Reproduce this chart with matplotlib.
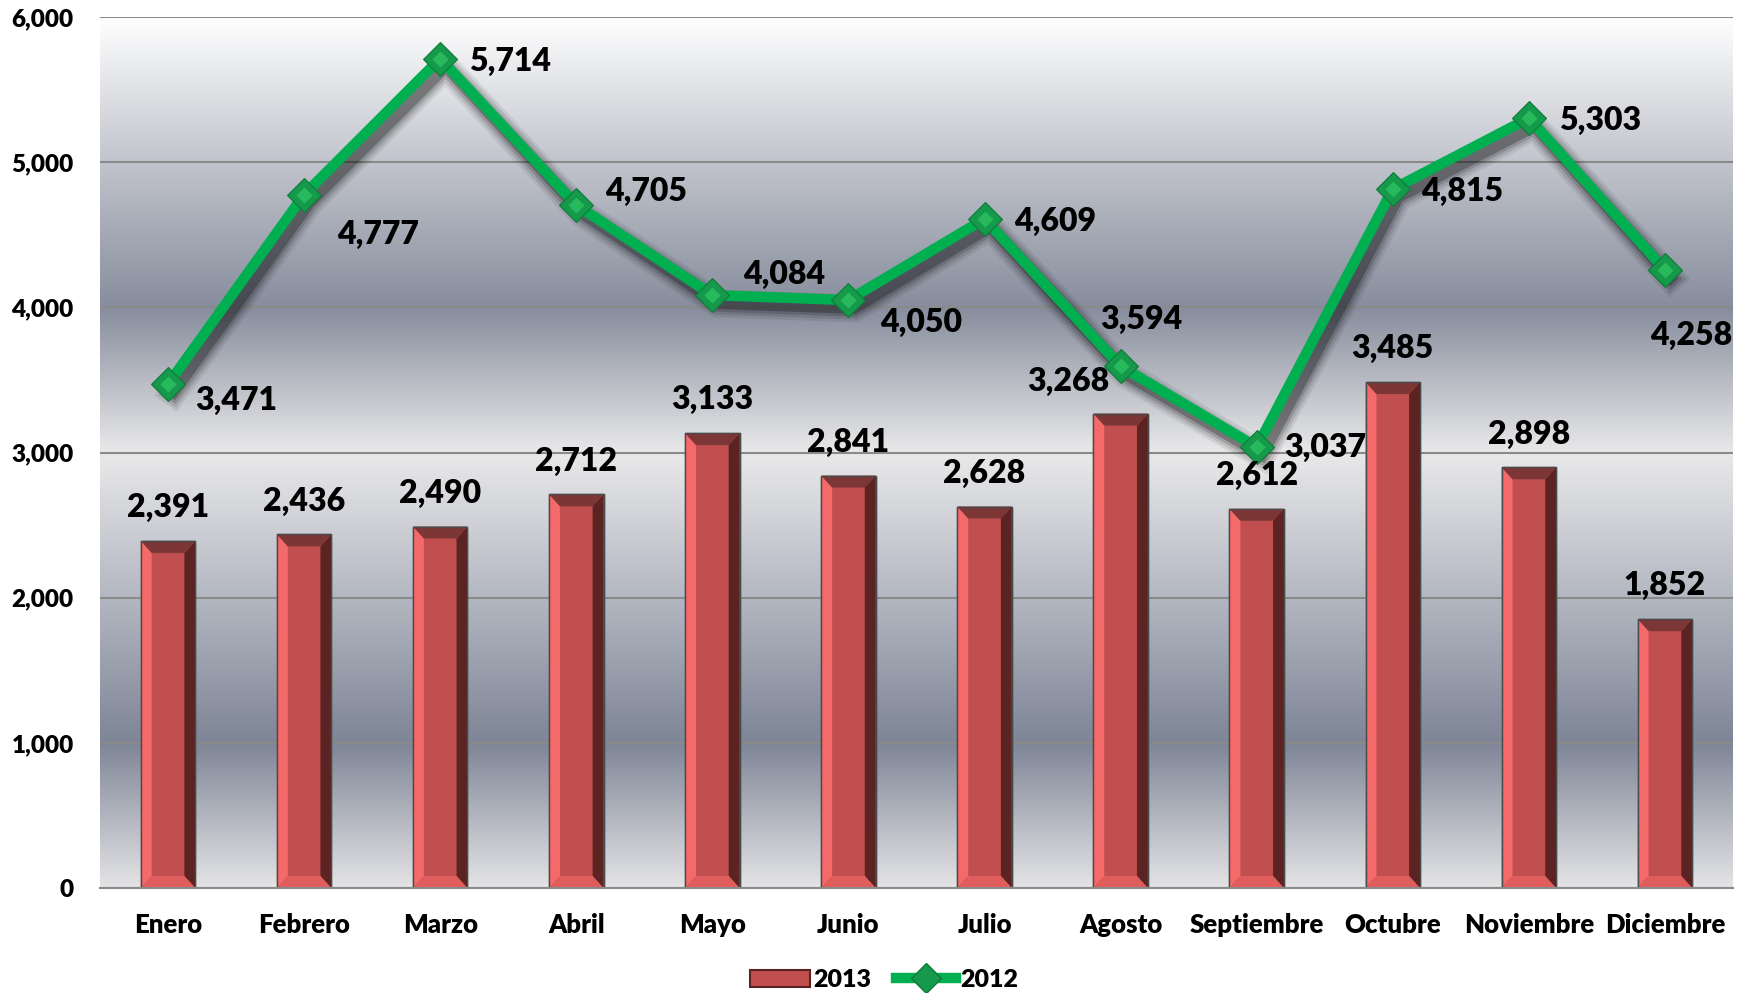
import numpy as np
import matplotlib
matplotlib.use("Agg")
import matplotlib.pyplot as plt
from matplotlib.patches import Polygon, Rectangle
from matplotlib.lines import Line2D
from matplotlib.colors import to_rgb
import matplotlib.patheffects as pe

# ---------------- data ----------------
months = ["Enero", "Febrero", "Marzo", "Abril", "Mayo", "Junio", "Julio",
          "Agosto", "Septiembre", "Octubre", "Noviembre", "Diciembre"]
values_2013 = [2391, 2436, 2490, 2712, 3133, 2841, 2628, 3268, 2612, 3485, 2898, 1852]
values_2012 = [3471, 4777, 5714, 4705, 4084, 4050, 4609, 3594, 3037, 4815, 5303, 4258]
yticks = [0, 1000, 2000, 3000, 4000, 5000, 6000]

# label offsets (points) - positions only
line_label_offsets = [(49, -12), (53, -29), (50, -2), (50, 10), (52, 15), (52, -16),
                      (51, -2), (15, 34), (49, 0), (50, -2), (51, -2), (19, -47)]
bar_label_offsets = [(0, 24)] * 7 + [(-38, 23)] + [(0, 24)] * 4

# ---------------- style ----------------
FONT = "Lato"
WEIGHT = "heavy"
W, H, DPI = 17.55, 9.93, 100
fig = plt.figure(figsize=(W, H), dpi=DPI)
L, R, B, T = 100 / 1755, 1733 / 1755, 1 - 888 / 993, 1 - 17 / 993
ax = fig.add_axes([L, B, R - L, T - B])
ymax = 6000
ax.set_xlim(-0.5, len(months) - 0.5)
ax.set_ylim(0, ymax)

# background gradient (metallic bands)
stops_v = [0, 1000, 2000, 3000, 4000, 5000, 6000]
stops_c = ["#e4e4e6", "#7e8596", "#b3b7c1", "#e9e9ea", "#878d9d", "#c1c4cc", "#ffffff"]
yy = np.linspace(0, ymax, 600)
cols = np.array([to_rgb(c) for c in stops_c])
grad = np.stack([np.interp(yy, stops_v, cols[:, k]) for k in range(3)], axis=-1)
ax.imshow(grad[:, None, :], extent=[0, 1, 0, 1], transform=ax.transAxes,
          origin="lower", aspect="auto", zorder=0, interpolation="bilinear")

# gridlines
for s in ["left", "right", "top"]:
    ax.spines[s].set_visible(False)
ax.spines["bottom"].set_color("#8a8a8a")
ax.spines["bottom"].set_linewidth(1.5)
ax.spines["bottom"].set_zorder(3)
ax.set_yticks(yticks)
ax.yaxis.grid(True, color="#8a8a8a", linewidth=1.5, zorder=1)
ax.set_axisbelow(True)
ax.tick_params(axis="both", length=0)
ax.set_yticklabels([f"{v:,}" for v in yticks], fontsize=17.5, fontweight=WEIGHT,
                   fontfamily=FONT)
ax.tick_params(axis="y", pad=19)
ax.set_xticks(range(len(months)))
ax.set_xticklabels(months, fontsize=18.5, fontweight=WEIGHT, fontfamily=FONT)
ax.tick_params(axis="x", pad=18)

# ---------------- bars with bevel ----------------
x = np.arange(len(months))
bw = 0.40
ax.bar(x, values_2013, width=bw, color="#c24f4f", edgecolor="#5a5a5a",
       linewidth=1.0, zorder=2)
ax_h_px = (T - B) * H * DPI
bev_x = bw * 0.20
bev_y = 12 * ymax / ax_h_px
for xi, v in zip(x, values_2013):
    x0, x1 = xi - bw / 2, xi + bw / 2
    polys = [
        ([(x0, 0), (x0, v), (x0 + bev_x, v - bev_y), (x0 + bev_x, bev_y)], "#f46969"),
        ([(x1, 0), (x1, v), (x1 - bev_x, v - bev_y), (x1 - bev_x, bev_y)], "#5c2323"),
        ([(x0, v), (x1, v), (x1 - bev_x, v - bev_y), (x0 + bev_x, v - bev_y)], "#7d3636"),
        ([(x0, 0), (x1, 0), (x1 - bev_x, bev_y), (x0 + bev_x, bev_y)], "#e05d5d"),
    ]
    for pts, c in polys:
        ax.add_patch(Polygon(pts, closed=True, facecolor=c, edgecolor="none", zorder=2.1))
    ax.add_patch(Rectangle((x0, 0), bw, v, facecolor="none", edgecolor="#4a4a4a",
                           linewidth=1.0, zorder=2.2))

# ---------------- line with blurred shadow ----------------
shadow = [pe.SimpleLineShadow(offset=(4, -6), shadow_color="k", alpha=0.07, linewidth=20),
          pe.SimpleLineShadow(offset=(4, -6), shadow_color="k", alpha=0.10, linewidth=16),
          pe.SimpleLineShadow(offset=(4, -6), shadow_color="k", alpha=0.15, linewidth=12),
          pe.SimpleLineShadow(offset=(4, -6), shadow_color="k", alpha=0.25, linewidth=8),
          pe.Normal()]
ax.plot(x, values_2012, color="#00b050", linewidth=7.5, solid_joinstyle="miter",
        zorder=4, path_effects=shadow)
ax.plot(x, values_2012, linestyle="none", marker="D", markersize=17,
        markerfacecolor="#15994a", markeredgecolor="#0f7a38", markeredgewidth=0.8, zorder=5)
ax.plot(x, values_2012, linestyle="none", marker="D", markersize=8,
        markerfacecolor="#28b95c", markeredgecolor="none", zorder=5.1)

# ---------------- labels ----------------
lab_kw = dict(fontsize=23, fontweight=WEIGHT, fontfamily=FONT, ha="center",
              va="center", textcoords="offset points", zorder=6, color="black")
for xi, v, off in zip(x, values_2012, line_label_offsets):
    ax.annotate(f"{v:,}", (xi, v), xytext=off, **lab_kw)
for xi, v, off in zip(x, values_2013, bar_label_offsets):
    ax.annotate(f"{v:,}", (xi, v), xytext=off, **lab_kw)

# ---------------- legend ----------------
h_bar = Rectangle((0, 0), 1, 1, facecolor="#c24f4f", edgecolor="#5c2323", linewidth=1.5)
h_line = Line2D([], [], color="#00b050", linewidth=7.5, marker="D", markersize=15,
                markerfacecolor="#15994a", markeredgecolor="#0f7a38")
fig.legend([h_bar, h_line], ["2013", "2012"], loc="center",
           bbox_to_anchor=(884 / 1755, 1 - 980 / 993), ncol=2, frameon=False,
           prop=dict(family=FONT, weight=WEIGHT, size=18), handlelength=2.4,
           handletextpad=0.15, columnspacing=1.0)

fig.savefig("out.png", dpi=DPI)
